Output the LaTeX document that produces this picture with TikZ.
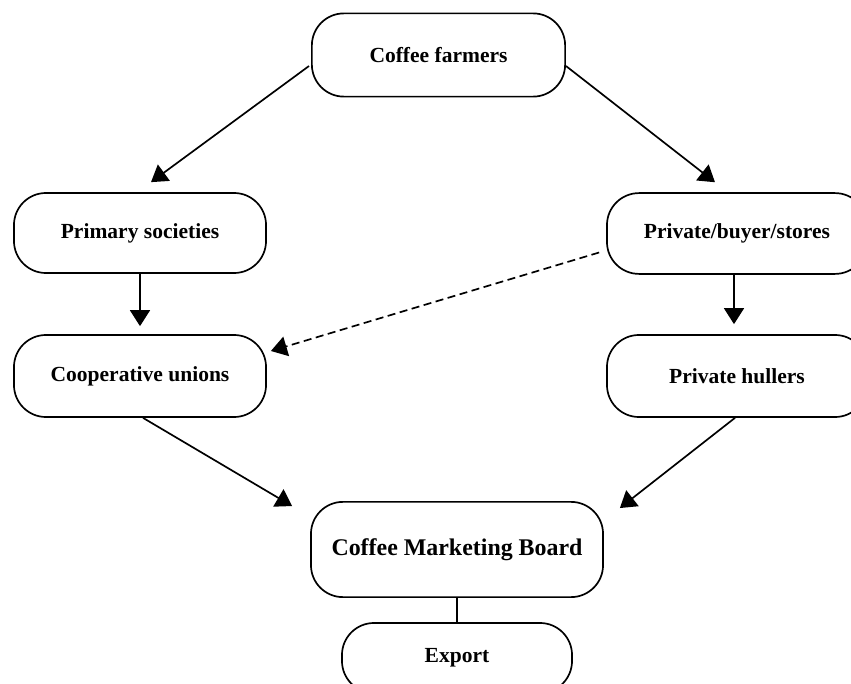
\documentclass[tikz,border=0pt]{standalone}
\usepackage{fontspec}
\setmainfont{Liberation Serif}
\usetikzlibrary{arrows.meta,calc}

\begin{document}
\begin{tikzpicture}[x=0.025cm,y=-0.025cm,
  bx/.style={draw,line width=1.2pt,rounded corners=0.8cm,align=center,inner sep=0pt,
    font=\bfseries\fontsize{15.3}{18}\selectfont},
  bxb/.style={bx,font=\bfseries\fontsize{17}{20}\selectfont},
  ar/.style={-{Triangle[length=4mm,width=5mm]},line width=1.2pt},
  da/.style={ar,dash pattern=on 5.7pt off 3.2pt}]
  \useasboundingbox (0,0) rectangle (851,684);
  \clip (0,0) rectangle (851,684);
  % ---------- boxes ----------
  \node[bx,minimum width=6.33cm,minimum height=2.08cm] (farmers) at (438.5,55) {Coffee farmers};
  \node[bx,minimum width=6.3cm,minimum height=2cm] (primary) at (140,233) {Primary societies};
  \node[bx,minimum width=6.5cm,minimum height=2.02cm] (private) at (737,233.5) {Private/buyer/stores};
  \node[bx,minimum width=6.3cm,minimum height=2.05cm] (coop) at (140,376) {Cooperative unions};
  \node[bx,minimum width=6.5cm,minimum height=2.05cm] (hullers) at (737,376) {Private hullers};
  \node[bxb,minimum width=7.3cm,minimum height=2.38cm] (cmb) at (457,549.5) {Coffee Marketing Board};
  \node[bx,minimum width=5.75cm,minimum height=1.75cm] (export) at (457,658) {Export};
  % ---------- connectors ----------
  \draw[ar] ($(farmers.west)+(-2,11)$) -- ($(primary.north)+(11,-10)$);
  \draw[ar] ($(farmers.east)+(0,11)$) -- ($(private.north)+(-22,-10)$);
  \draw[ar,shorten >=0.2cm] (primary) -- (coop);
  \draw[ar,shorten >=0.25cm] ($(private.south)+(-3,0)$) -- ($(hullers.north)+(-3,0)$);
  \draw[da] ($(private.west)+(-7,19)$) -- ($(coop.east)+(4,-25)$);
  \draw[ar] ($(coop.south)+(3,0)$) -- ($(cmb.north west)+(-18,5)$);
  \draw[ar] ($(hullers.south)+(-2,0)$) -- ($(cmb.north east)+(16,7)$);
  \draw[line width=1.2pt] (cmb) -- (export);
\end{tikzpicture}
\end{document}
